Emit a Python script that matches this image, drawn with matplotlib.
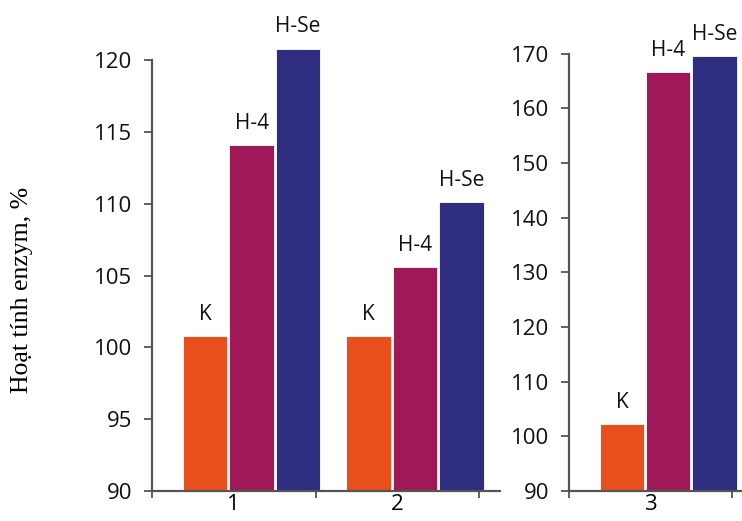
import matplotlib
matplotlib.use('Agg')
import matplotlib.pyplot as plt

# so lieu doc tu hinh
groups_left = ['1', '2']
groups_right = ['3']
series = ['K', 'H-4', 'H-Se']
colors = ['#E84F1D', '#A01858', '#2E2D80']
left_values = [[100.8, 114.1, 120.8],
               [100.8, 105.6, 110.1]]
right_values = [[102.2, 166.6, 169.6]]
left_yticks = [90, 95, 100, 105, 110, 115, 120]
right_yticks = [90, 100, 110, 120, 130, 140, 150, 160, 170]

plt.rcParams['font.family'] = ['Open Sans', 'DejaVu Sans']
W, H = 742, 521
fig = plt.figure(figsize=(W / 100, H / 100), dpi=100)

ax1 = fig.add_axes([152 / W, 30 / H, 348 / W, 431 / H])
ax2 = fig.add_axes([569 / W, 30 / H, 196 / W, 437.5 / H])

bar_w = 0.272
offset0 = 0.325
step = 0.284


def draw(ax, vals, labels, yticks, xmax):
    for i, row in enumerate(vals):
        for j, v in enumerate(row):
            x = i + offset0 + j * step
            ax.bar(x, v - yticks[0], bottom=yticks[0], width=bar_w,
                   color=colors[j], edgecolor='white', linewidth=0.6,
                   clip_on=False)
            ax.annotate(series[j], (x, v), xytext=(0, 8),
                        textcoords='offset points', ha='center', va='bottom',
                        fontsize=15, color='#111111', annotation_clip=False)
    ax.set_ylim(yticks[0], yticks[-1])
    ax.set_xlim(0, xmax)
    ax.set_yticks(yticks)
    ax.set_xticks(range(len(vals) + 1))
    ax.set_xticklabels([])
    ax.set_xticks([i + 0.5 for i in range(len(vals))], minor=True)
    ax.set_xticklabels(labels, minor=True)
    ax.tick_params(axis='x', which='minor', length=0, pad=2, labelsize=16)
    ax.tick_params(axis='x', which='major', length=5, width=1.3, color='#555555')
    ax.tick_params(axis='y', length=6, width=1.3, color='#555555',
                   labelsize=16, pad=8, labelcolor='#111111')
    for s in ['top', 'right']:
        ax.spines[s].set_visible(False)
    for s in ['left', 'bottom']:
        ax.spines[s].set_color('#555555')
        ax.spines[s].set_linewidth(1.6)


draw(ax1, left_values, groups_left, left_yticks, 348 / 163.5)
draw(ax2, right_values, groups_right, right_yticks, 196 / 163)

fig.text(22 / W, 1 - 290 / H, 'Hoạt tính enzym, %', rotation=90,
         ha='center', va='center', fontsize=18.5,
         family=['Liberation Serif', 'DejaVu Serif'])

fig.savefig('out.png', dpi=100)
